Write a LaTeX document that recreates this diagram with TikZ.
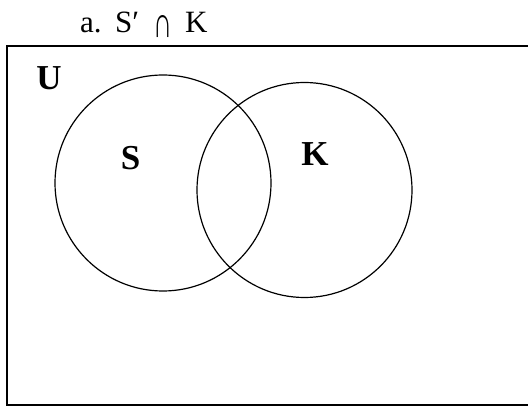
\documentclass[tikz,border=0pt]{standalone}
\usepackage{fontspec}
\setmainfont{Liberation Serif}
\begin{document}
\begin{tikzpicture}[x=1pt,y=-1pt,
  lbl/.style={font=\fontsize{35}{35}\selectfont\bfseries, inner sep=0pt},
  setc/.style={circle, draw, line width=1.2pt, inner sep=0pt}]
\useasboundingbox (0,0) rectangle (528,406);
\clip (0,0) rectangle (528,406);
\draw[line width=1.5pt] (7,46) rectangle (545,405);
\node[setc, minimum size=216pt] (S) at (163,183) {};
\node[setc, minimum size=215pt] (K) at (304.5,190) {};
\node[lbl] (U) at (49,78) {U};
\node[lbl] (s) at (130.5,158) {S};
\node[lbl] (k) at (315,154) {K};
\node[anchor=base west, font=\fontsize{31}{31}\selectfont, inner sep=0pt] (t) at (80,33)
  {\makebox[35pt][l]{a.}\makebox[40pt][l]{S′}\makebox[30pt][l]{\hspace{-2pt}\raisebox{-5pt}{\resizebox{19pt}{22pt}{∩}}}K};
\end{tikzpicture}
\end{document}
